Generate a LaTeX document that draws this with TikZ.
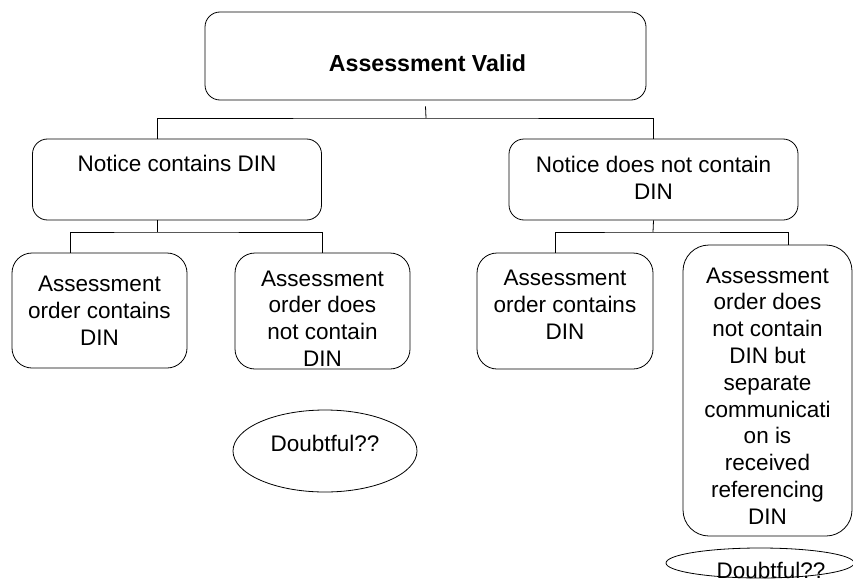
\documentclass[tikz,border=0pt]{standalone}
\usepackage{fontspec}
\setmainfont{Liberation Sans}
\usetikzlibrary{shapes.geometric}

\begin{document}
\begin{tikzpicture}[x=1pt,y=-1pt,line width=0.8pt]
  \tikzstyle{every node}=[font=\fontsize{22.5}{26.8}\selectfont,align=center,inner sep=0pt]
  \tikzstyle{box}=[draw,rounded corners=15pt]
  \tikzstyle{oval}=[draw,ellipse]
  \useasboundingbox (0,0) rectangle (853,583);
  \clip (0,0) rectangle (853,583);
  % boxes
  \node[box,minimum width=441pt,minimum height=88pt] (valid) at (425.5,56) {};
  \node[box,minimum width=289pt,minimum height=81pt] (notice) at (177,179.5) {};
  \node[box,minimum width=289pt,minimum height=81pt] (nonotice) at (653.5,179.5) {};
  \node[box,rounded corners=20pt,minimum width=175pt,minimum height=115pt] (orda) at (99.5,310.5) {};
  \node[box,rounded corners=20pt,minimum width=175pt,minimum height=116pt] (ordb) at (322.5,311) {};
  \node[box,rounded corners=20pt,minimum width=176pt,minimum height=116pt] (ordc) at (565,311) {};
  \node[box,rounded corners=26pt,minimum width=169pt,minimum height=291pt] (ordd) at (767.5,390.5) {};
  \node[oval,minimum width=184pt,minimum height=82pt] (doubta) at (325,451) {};
  \node[oval,minimum width=188pt,minimum height=30pt] (doubtb) at (760,563) {};
  % texts
  \node (validtxt) at (427.5,63) {\fontsize{23.2}{27}\selectfont\bfseries Assessment Valid};
  \node (noticetxt) at (177,163) {Notice contains DIN};
  \node (nonoticetxt) at (653.5,177.5) {Notice does not contain\\DIN};
  \node (ordatxt) at (99.5,311) {Assessment\\order contains\\DIN};
  \node (ordbtxt) at (322.5,318.5) {Assessment\\order does\\not contain\\DIN};
  \node (ordctxt) at (565,305) {Assessment\\order contains\\DIN};
  \node (orddtxt) at (767.5,396) {Assessment\\order does\\not contain\\DIN but\\separate\\communicati\\on is\\received\\referencing\\DIN};
  \node (doubtatxt) at (325,443) {Doubtful??};
  \node (doubtbtxt) at (771,570.5) {Doubtful??};
  % connectors
  \coordinate (bus1) at (426,118);
  \coordinate (bus2) at (157,232);
  \coordinate (bus3) at (653,232);
  \draw ([yshift=-6pt]valid.south) -- (bus1);
  \draw ([xshift=-20pt]notice.north) |- (bus1) -| (nonotice.north);
  \draw ([xshift=-20pt]notice.south) -- (bus2);
  \draw ([xshift=-29.5pt]orda.north) |- (bus2) -| (ordb.north);
  \draw (nonotice.south) -- (bus3);
  \draw ([xshift=-10pt]ordc.north) |- (bus3) -| ([xshift=20.5pt]ordd.north);
\end{tikzpicture}
\end{document}
